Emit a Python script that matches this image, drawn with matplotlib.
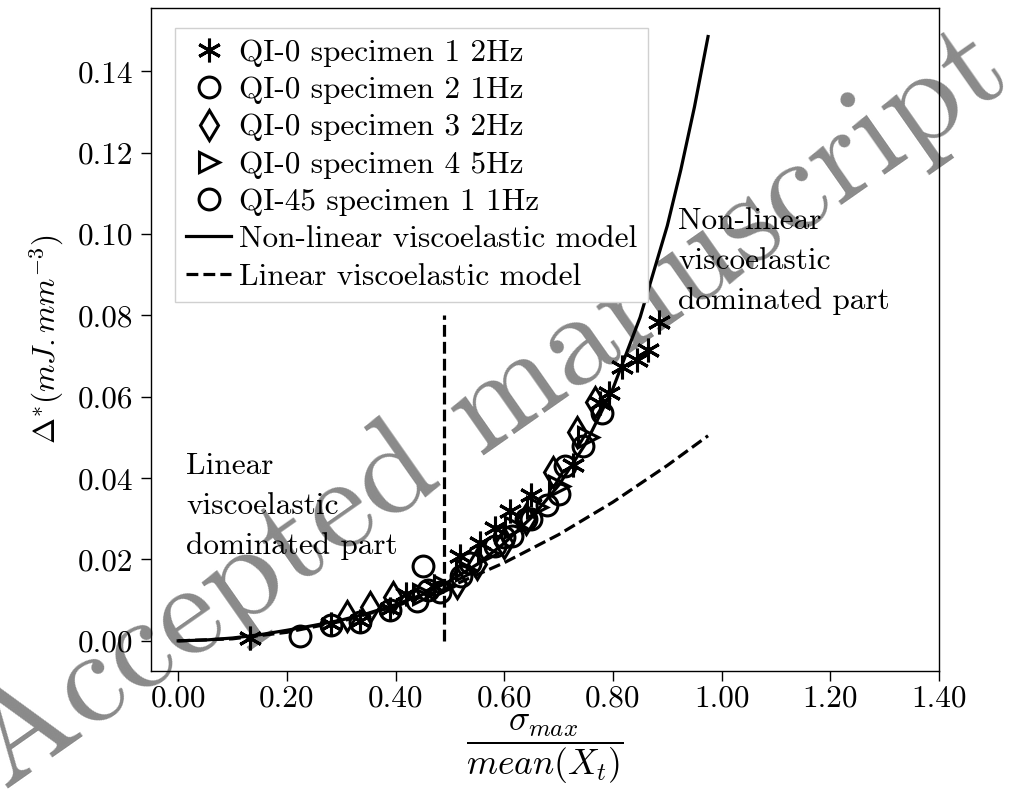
import numpy as np
import matplotlib
matplotlib.use("Agg")
import matplotlib.pyplot as plt

plt.rcParams['font.family'] = 'serif'
plt.rcParams['font.serif'] = ['cmr10']
plt.rcParams['mathtext.fontset'] = 'cm'
plt.rcParams['axes.formatter.use_mathtext'] = True
plt.rcParams['axes.unicode_minus'] = False

# data
s1_x = [0.132, 0.282, 0.334, 0.390, 0.420, 0.470, 0.519, 0.555, 0.583, 0.611, 0.650,
        0.727, 0.776, 0.792, 0.816, 0.844, 0.865, 0.884]
s1_y = [0.0008, 0.0041, 0.0049, 0.0078, 0.0114, 0.0135, 0.0208, 0.0241, 0.0278, 0.0318, 0.0359,
        0.0433, 0.0584, 0.0608, 0.0673, 0.0690, 0.0714, 0.0784]

s2_x = [0.224, 0.282, 0.334, 0.390, 0.439, 0.482, 0.537, 0.583, 0.614, 0.650, 0.678, 0.712, 0.745, 0.779]
s2_y = [0.0012, 0.0038, 0.0046, 0.0076, 0.0098, 0.0119, 0.0192, 0.0233, 0.0257, 0.0300, 0.0335, 0.0429, 0.0478, 0.0559]

s3_x = [0.310, 0.353, 0.396, 0.513, 0.550, 0.600, 0.640, 0.690, 0.733, 0.767]
s3_y = [0.0062, 0.0082, 0.0108, 0.0143, 0.0190, 0.0240, 0.0300, 0.0416, 0.0514, 0.0588]

s4_x = [0.450, 0.490, 0.530, 0.570, 0.620, 0.660, 0.700, 0.755]
s4_y = [0.0115, 0.0135, 0.0175, 0.0215, 0.0280, 0.0330, 0.0380, 0.0500]

s5_x = [0.451, 0.460, 0.520, 0.600, 0.640, 0.700]
s5_y = [0.0184, 0.0125, 0.0160, 0.0255, 0.0300, 0.0360]

nl_x = [0, 0.05, 0.1, 0.15, 0.2, 0.25, 0.3, 0.35, 0.4, 0.45, 0.5, 0.55, 0.6, 0.65,
        0.7, 0.75, 0.8, 0.85, 0.9, 0.925, 0.95, 0.975]
nl_y = [0, 0.0002, 0.0007, 0.0015, 0.0026, 0.0038, 0.0051, 0.0068, 0.0089, 0.0114, 0.0147,
        0.0188, 0.0240, 0.0303, 0.0382, 0.0485, 0.0620, 0.0795, 0.1020, 0.1158, 0.1312, 0.1485]

lin_x = [0, 0.1, 0.2, 0.3, 0.4, 0.5, 0.6, 0.7, 0.8, 0.9, 0.975]
lin_y = [0, 0.0005, 0.0021, 0.0048, 0.0085, 0.0133, 0.0192, 0.0261, 0.0341, 0.0431, 0.0504]

limit_x = 0.49
limit_y = [0.0, 0.08]

labels = ['QI-0 specimen 1 2Hz', 'QI-0 specimen 2 1Hz', 'QI-0 specimen 3 2Hz',
          'QI-0 specimen 4 5Hz', 'QI-45 specimen 1 1Hz',
          'Non-linear viscoelastic model', 'Linear viscoelastic model']

fs = 22.5
fig = plt.figure(figsize=(10.19, 8.05), dpi=100)
ax = fig.add_axes([0.1482, 0.1665, 0.7733, 0.8235])
ax.patch.set_alpha(0)

mk = dict(linestyle='none', color='k', mfc='none', mec='k', mew=2.2)
ax.plot(s1_x, s1_y, marker=(6, 2, 0), ms=17, label=labels[0], **mk)
ax.plot(s2_x, s2_y, marker='o', ms=15, label=labels[1], **mk)
ax.plot(s3_x, s3_y, marker='d', ms=15, label=labels[2], **mk)
ax.plot(s4_x, s4_y, marker='>', ms=14, label=labels[3], **mk)
ax.plot(s5_x, s5_y, marker='o', ms=15, label=labels[4], **mk)
ax.plot(nl_x, nl_y, 'k-', lw=2.3, label=labels[5])
ax.plot(lin_x, lin_y, 'k--', lw=2.3, label=labels[6])
ax.plot([limit_x, limit_x], limit_y, 'k--', lw=2.3)

ax.set_xlim(-0.05, 1.40)
ax.set_ylim(-0.0074, 0.1555)
ax.set_xticks(np.arange(0, 1.41, 0.2))
ax.set_yticks(np.arange(0, 0.141, 0.02))
ax.xaxis.set_major_formatter(plt.FormatStrFormatter('%.2f'))
ax.yaxis.set_major_formatter(plt.FormatStrFormatter('%.2f'))
ax.tick_params(labelsize=fs, length=7, width=1, direction='out', pad=6)
ax.tick_params(axis='x', pad=3)
for sp in ax.spines.values():
    sp.set_linewidth(1.0)

ax.set_xlabel(r'$\dfrac{\sigma_{max}}{mean(X_t)}$', fontsize=fs + 3, labelpad=0)
ax.set_ylabel(r'$\Delta^{*}(mJ.mm^{-3})$', fontsize=fs, labelpad=8)

ax.text(0.015, 0.0465, 'Linear\nviscoelastic\ndominated part', fontsize=fs,
        ha='left', va='top', linespacing=1.55)
ax.text(0.92, 0.1065, 'Non-linear\nviscoelastic\ndominated part', fontsize=fs,
        ha='left', va='top', linespacing=1.55)

leg = ax.legend(loc='upper left', bbox_to_anchor=(0.0305, 0.970), borderaxespad=0,
                fontsize=fs, numpoints=1, handlelength=1.45, handletextpad=0.25,
                labelspacing=0.3, borderpad=0.35, fancybox=False, edgecolor='#d0d0d0',
                framealpha=1)

# watermark
fig.text(0.005, 0.018, 'Accepted manuscript', fontsize=96, color='#8a8a8a',
         rotation=35.0, rotation_mode='anchor', ha='left', va='baseline', zorder=-1)

fig.savefig('out.png', dpi=100)
